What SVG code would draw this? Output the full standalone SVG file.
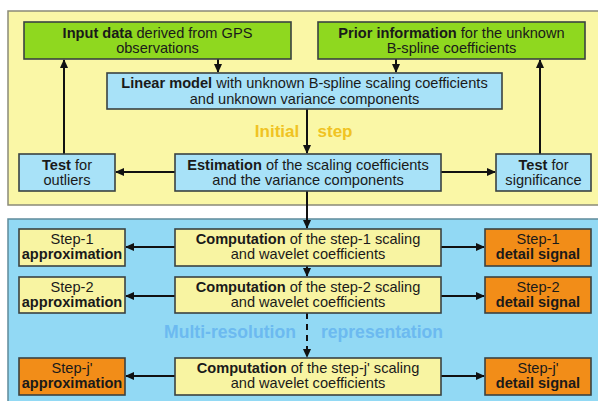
<svg xmlns="http://www.w3.org/2000/svg" width="598" height="401" viewBox="0 0 598 401">
<defs>
<marker id="ah" markerWidth="10" markerHeight="10" refX="8" refY="5" orient="auto" markerUnits="userSpaceOnUse">
<path d="M0,1 L9,5 L0,9 Z" fill="#111"/>
</marker>
</defs>
<style>
text{font-family:"Liberation Sans",Arial,sans-serif;font-size:14.6px;fill:#1a1a1a;text-anchor:middle}
.b{font-weight:bold}
.box{stroke:#3a4242;stroke-width:1.6}
.g{fill:#8fd81f}
.lb{fill:#a8e2f8}
.y{fill:#f8f4a2}
.o{fill:#f28d18}
.c{stroke:#111;stroke-width:2;fill:none;marker-end:url(#ah)}
.lab{font-size:17px;font-weight:bold}
.lab2{font-size:17.6px;font-weight:bold;fill:#6cbaf0}
</style>
<rect width="598" height="401" fill="#ffffff"/>
<rect x="8" y="11" width="592" height="194" fill="#faf7a6" stroke="#8a8a78" stroke-width="1.5"/>
<rect x="8" y="219" width="592" height="190" fill="#92d9f4" stroke="#5f8a9a" stroke-width="1.5"/>
<text class="lab" x="277" y="137" style="fill:#f0c322">Initial</text>
<text class="lab" x="335" y="137" style="fill:#f0c322">step</text>
<text class="lab2" x="230" y="338">Multi-resolution</text>
<text class="lab2" x="382" y="338">representation</text>
<g id="connectors">
<path class="c" d="M218,59 V72"/>
<path class="c" d="M396,59 V72"/>
<path class="c" d="M307,109 V153"/>
<path class="c" d="M175,172 H116"/>
<path class="c" d="M441,172 H495"/>
<path class="c" d="M64,154 V60"/>
<path class="c" d="M540,154 V60"/>
<path class="c" d="M307,191 V228"/>
<path class="c" d="M175,247 H126"/>
<path class="c" d="M441,247 H484"/>
<path class="c" d="M307,266 V276"/>
<path class="c" d="M175,296 H126"/>
<path class="c" d="M441,296 H484"/>
<path class="c" d="M307,313 V357" stroke-dasharray="6,5"/>
<path class="c" d="M175,376 H126"/>
<path class="c" d="M441,376 H484"/>
</g>
<g id="input"><rect class="box g" x="24" y="22" width="267" height="37"/>
<text x="157.5" y="37.5"><tspan class="b">Input data</tspan> derived from GPS</text><text x="157.5" y="53">observations</text></g>
<g id="prior"><rect class="box g" x="318" y="22" width="267" height="37"/>
<text x="451.5" y="37.5"><tspan class="b">Prior information</tspan> for the unknown</text><text x="451.5" y="53">B-spline coefficients</text></g>
<g id="linear"><rect class="box lb" x="107" y="73" width="395" height="36"/>
<text x="304.5" y="88"><tspan class="b">Linear model</tspan> with unknown B-spline scaling coefficients</text><text x="304.5" y="103.5">and unknown variance components</text></g>
<g id="estimation"><rect class="box lb" x="175" y="154" width="266" height="37"/>
<text x="308" y="169.5"><tspan class="b">Estimation</tspan> of the scaling coefficients</text><text x="308" y="185">and the variance components</text></g>
<g id="outliers"><rect class="box lb" x="19" y="154" width="96" height="37"/>
<text x="67" y="169.5"><tspan class="b">Test</tspan> for</text><text x="67" y="185">outliers</text></g>
<g id="significance"><rect class="box lb" x="496" y="154" width="95" height="37"/>
<text x="543.5" y="169.5"><tspan class="b">Test</tspan> for</text><text x="543.5" y="185">significance</text></g>
<g id="approx1"><rect class="box y" x="19" y="229" width="106" height="37"/>
<text x="72" y="243.5">Step-1</text><text class="b" x="72" y="259">approximation</text></g>
<g id="comp1"><rect class="box y" x="175" y="229" width="266" height="37"/>
<text x="308" y="243.5"><tspan class="b">Computation</tspan> of the step-1 scaling</text><text x="308" y="259">and wavelet coefficients</text></g>
<g id="detail1"><rect class="box o" x="485" y="229" width="106" height="37"/>
<text x="538" y="243.5">Step-1</text><text class="b" x="538" y="259">detail signal</text></g>
<g id="approx2"><rect class="box y" x="19" y="277" width="106" height="36"/>
<text x="72" y="291.5">Step-2</text><text class="b" x="72" y="307">approximation</text></g>
<g id="comp2"><rect class="box y" x="175" y="277" width="266" height="36"/>
<text x="308" y="291.5"><tspan class="b">Computation</tspan> of the step-2 scaling</text><text x="308" y="307">and wavelet coefficients</text></g>
<g id="detail2"><rect class="box o" x="485" y="277" width="106" height="36"/>
<text x="538" y="291.5">Step-2</text><text class="b" x="538" y="307">detail signal</text></g>
<g id="approxj"><rect class="box o" x="19" y="358" width="106" height="37"/>
<text x="72" y="372.5">Step-j'</text><text class="b" x="72" y="388">approximation</text></g>
<g id="compj"><rect class="box y" x="175" y="358" width="266" height="37"/>
<text x="308" y="372.5"><tspan class="b">Computation</tspan> of the step-j' scaling</text><text x="308" y="388">and wavelet coefficients</text></g>
<g id="detailj"><rect class="box o" x="485" y="358" width="106" height="37"/>
<text x="538" y="372.5">Step-j'</text><text class="b" x="538" y="388">detail signal</text></g>
</svg>
